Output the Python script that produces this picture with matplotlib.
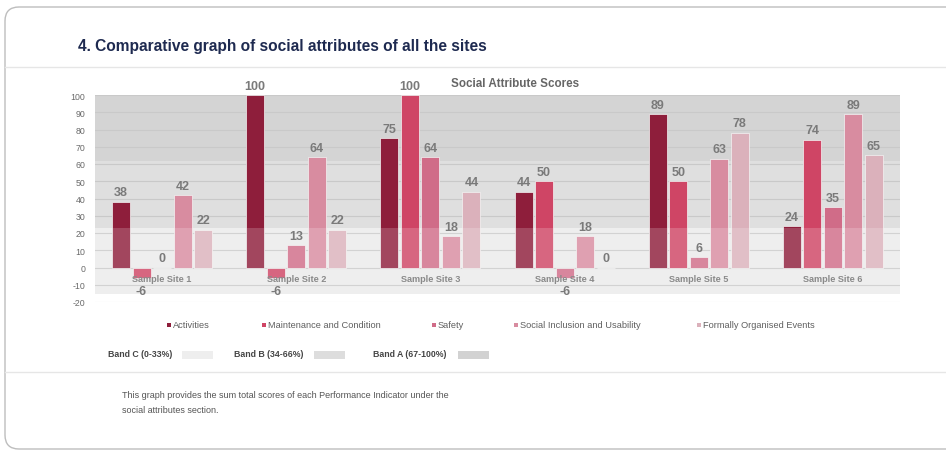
import matplotlib
matplotlib.use("Agg")
import matplotlib.pyplot as plt
from matplotlib.patches import FancyBboxPatch, Rectangle
from matplotlib.lines import Line2D

# ---- data ----
sites = ["Sample Site 1", "Sample Site 2", "Sample Site 3",
         "Sample Site 4", "Sample Site 5", "Sample Site 6"]
series_names = ["Activities", "Maintenance and Condition", "Safety",
                "Social Inclusion and Usability", "Formally Organised Events"]
activities = [38, 100, 75, 44, 89, 24]
maintenance = [-6, -6, 100, 50, 50, 74]
safety = [0, 13, 64, -6, 6, 35]
social_inclusion = [42, 64, 18, 18, 63, 89]
formal_events = [22, 22, 44, 0, 78, 65]
series_values = [activities, maintenance, safety, social_inclusion, formal_events]
series_colors = ["#8e1e3b", "#cf4565", "#d06c88", "#d88ca0", "#dbb1bb"]

band_names = ["Band C (0-33%)", "Band B (34-66%)", "Band A (67-100%)"]
band_ranges = [(-15.5, 23), (23, 62), (62, 100)]
band_colors = ["#ebebeb", "#dfdfdf", "#d4d4d4"]
band_swatch_colors = ["#eeeeee", "#dddddd", "#d2d2d2"]
yticks = list(range(-20, 101, 10))

plt.rcParams['font.family'] = ['Liberation Sans', 'DejaVu Sans']

W, H = 946, 452
fig = plt.figure(figsize=(W / 100, H / 100), dpi=100)
fig.patch.set_facecolor("white")

# decoration layer in pixel coordinates
deco = fig.add_axes([0, 0, 1, 1], zorder=0)
deco.set_xlim(0, W)
deco.set_ylim(H, 0)
deco.axis("off")
card = FancyBboxPatch((5, 8), W + 20, H - 10, boxstyle="round,pad=0,rounding_size=14",
                      facecolor="white", edgecolor="#bdbdbd", linewidth=1.0)
deco.add_patch(card)
deco.add_line(Line2D([5, W], [68, 68], color="#e6e6e6", lw=1.0))
deco.add_line(Line2D([5, W], [373, 373], color="#e6e6e6", lw=1.0))

fig.text(78 / W, 1 - 46 / H, "4. Comparative graph of social attributes of all the sites",
         fontsize=11.2, fontweight="bold", color="#1e2a50", ha="left", va="center")

# ---- main chart ----
ax = fig.add_axes([95 / W, 1 - 303 / H, 805 / W, 207 / H], zorder=1)
ax.set_facecolor("white")
ax.set_xlim(-0.5, len(sites) - 0.5)
ax.set_ylim(-20, 100)
for (lo, hi), c in zip(band_ranges, band_colors):
    ax.axhspan(lo, hi, color=c, zorder=0, lw=0)
for t in yticks:
    ax.axhline(t, color="#c9c9c9" if t > -20 else "#e6e6e6", lw=0.8, zorder=1)

step = 0.153
width = 0.134
n = len(series_values)
for i, (vals, col) in enumerate(zip(series_values, series_colors)):
    off = (i - (n - 1) / 2) * step
    xs = [k + off for k in range(len(sites))]
    ax.bar(xs, vals, width=width, color=col, edgecolor="#f4f4f4", linewidth=0.5, zorder=2)
    for x, v in zip(xs, vals):
        if v >= 0:
            ax.annotate(str(v), (x, v), xytext=(0, 2.5), textcoords="offset points",
                        ha="center", va="bottom", fontsize=9, fontweight="bold",
                        color="#7a7a7a", zorder=6)
        else:
            ax.annotate(str(v), (x, v), xytext=(0, -5), textcoords="offset points",
                        ha="center", va="top", fontsize=9, fontweight="bold",
                        color="#7a7a7a", zorder=6)

# washed-out lower band drawn over the bars
ax.axhspan(band_ranges[0][0], band_ranges[0][1], color="white", alpha=0.18, zorder=3, lw=0)

for k, s in enumerate(sites):
    ax.text(k, -6.5, s, ha="center", va="center", fontsize=6.6, fontweight="bold",
            color="#8a8a8a", zorder=7)

ax.set_yticks(yticks)
ax.set_yticklabels([str(t) for t in yticks], fontsize=6.3, color="#6a6a6a")
ax.tick_params(axis="y", length=0, pad=7)
ax.set_xticks([])
for sp in ax.spines.values():
    sp.set_visible(False)

fig.text(515 / W, 1 - 84 / H, "Social Attribute Scores", fontsize=8.4, fontweight="bold",
         color="#666666", ha="center", va="center")

# ---- series legend ----
leg_x = [167, 262, 432, 514, 697]
for x, name, col in zip(leg_x, series_names, series_colors):
    deco.add_patch(Rectangle((x, 323.5), 4, 4, facecolor=col, edgecolor="none"))
    deco.text(x + 6, 325.7, name, fontsize=6.7, color="#606060", ha="left", va="center")

# ---- band legend ----
band_text_x = [108, 234, 373]
band_sw_x = [182, 314, 458]
for tx, sx, name, c in zip(band_text_x, band_sw_x, band_names, band_swatch_colors):
    deco.text(tx, 355, name, fontsize=6.3, color="#444444", ha="left", va="center",
              fontweight="bold")
    deco.add_patch(Rectangle((sx, 351.5), 31, 8, facecolor=c, edgecolor="none"))

# ---- footnote ----
note_font = ['Liberation Sans Narrow', 'Liberation Sans', 'DejaVu Sans']
fig.text(122 / W, 1 - 396 / H,
         "This graph provides the sum total scores of each Performance Indicator under the",
         fontsize=6.5, color="#555555", ha="left", va="center", family=note_font)
fig.text(122 / W, 1 - 411 / H, "social attributes section.",
         fontsize=6.5, color="#555555", ha="left", va="center", family=note_font)

fig.savefig("out.png", dpi=100, facecolor="white")
